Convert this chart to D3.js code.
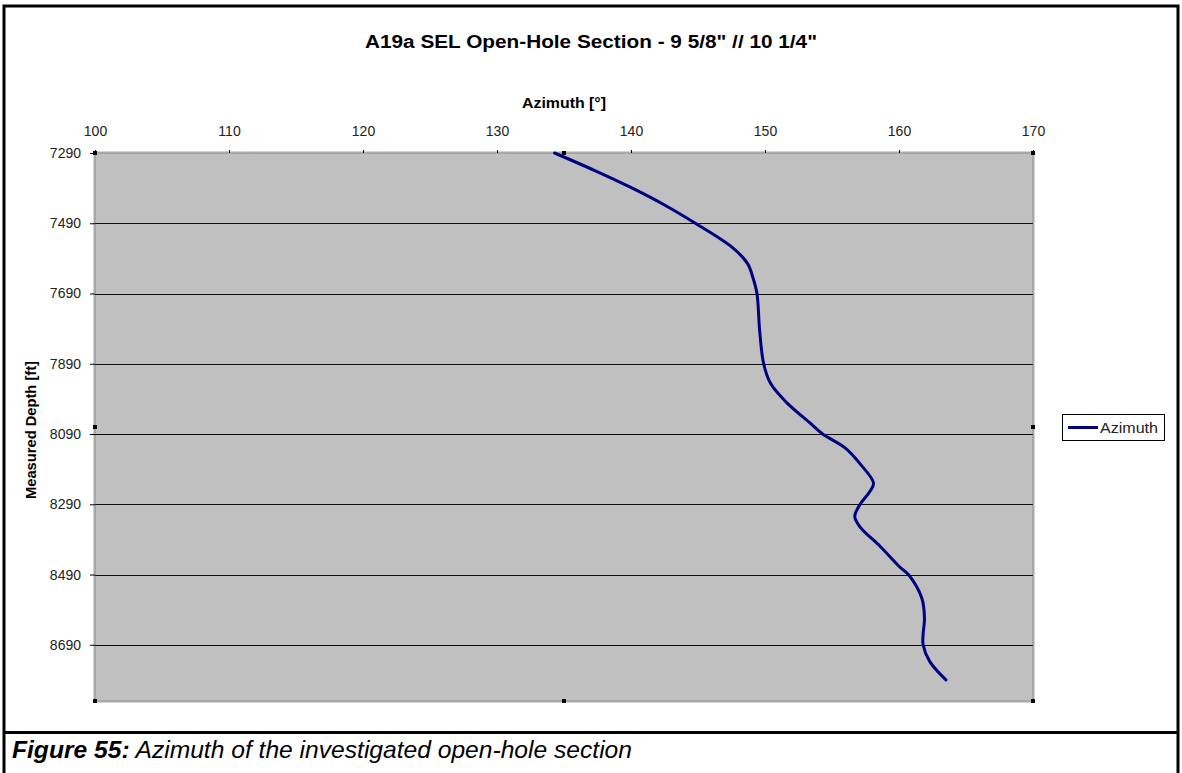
<!DOCTYPE html>
<html>
<head>
<meta charset="utf-8">
<script src="https://cdn.jsdelivr.net/npm/d3@7"></script>
<style>
  html, body { margin: 0; padding: 0; background: #fff; }
  svg { display: block; font-family: "Liberation Sans", Arial, sans-serif; }
</style>
</head>
<body>
<svg id="chart" width="1182" height="773"></svg>
<script>
// Measured depth [ft] along the open-hole section
const depths = [7290, 7340, 7390, 7440, 7490, 7560, 7605, 7645, 7690, 7795, 7890, 7945,
                8000, 8060, 8090, 8130, 8175, 8230, 8255, 8290, 8325, 8355, 8410, 8470,
                8490, 8557, 8615, 8660, 8690, 8738, 8790];
// Azimuth [°] at each depth
const azimuths = [134.3, 137.3, 140.1, 142.6, 144.8, 147.6, 148.7, 149.1, 149.4, 149.6, 149.9, 150.4,
                  151.6, 153.4, 154.3, 156.0, 157.1, 158.1, 157.8, 157.1, 156.7, 157.1, 158.6, 160.1,
                  160.7, 161.7, 161.9, 161.8, 161.8, 162.3, 163.5];
const xTicks = [100, 110, 120, 130, 140, 150, 160, 170];
const yTicks = [7290, 7490, 7690, 7890, 8090, 8290, 8490, 8690];
const depthMax = 8850;

const titleText = "A19a SEL Open-Hole Section - 9 5/8\" // 10 1/4\"";
const xTitle = "Azimuth [°]";
const yTitle = "Measured Depth [ft]";
const seriesName = "Azimuth";
const captionBold = "Figure 55:";
const captionRest = " Azimuth of the investigated open-hole section";

const svg = d3.select("#chart");
const plot = { left: 95, right: 1033, top: 153, bottom: 701 };

const x = d3.scaleLinear().domain([100, 170]).range([plot.left, plot.right]);
const y = d3.scaleLinear().domain([7290, depthMax]).range([plot.top, plot.bottom]);

// Page frame and caption divider
svg.append("rect").attr("x", 4).attr("y", 6).attr("width", 1174).attr("height", 800)
  .attr("fill", "none").attr("stroke", "#000").attr("stroke-width", 3);
svg.append("line").attr("x1", 4).attr("x2", 1178).attr("y1", 732.5).attr("y2", 732.5)
  .attr("stroke", "#000").attr("stroke-width", 3);

// Plot area
svg.append("rect").attr("x", plot.left).attr("y", plot.top)
  .attr("width", plot.right - plot.left).attr("height", plot.bottom - plot.top)
  .attr("fill", "#c0c0c0");

// Horizontal gridlines
svg.append("g").selectAll("line").data(yTicks.slice(1)).join("line")
  .attr("x1", plot.left).attr("x2", plot.right)
  .attr("y1", d => Math.round(y(d)) + 0.5).attr("y2", d => Math.round(y(d)) + 0.5)
  .attr("stroke", "#101010").attr("stroke-width", 1);

// Plot border (dotted)
svg.append("rect").attr("x", plot.left - 0.5).attr("y", plot.top - 0.5)
  .attr("width", plot.right - plot.left + 1).attr("height", plot.bottom - plot.top + 1)
  .attr("fill", "none").attr("stroke", "#555").attr("stroke-width", 2)
  .attr("stroke-dasharray", "1,1");

// Axes
const xAxis = d3.axisTop(x).tickValues(xTicks).tickSize(3).tickPadding(14).tickFormat(d3.format("d"));
const gx = svg.append("g").attr("transform", `translate(0,${plot.top})`).call(xAxis);
gx.select(".domain").remove();
gx.selectAll(".tick line").attr("stroke", "#000");
gx.selectAll(".tick text").attr("font-size", 14).attr("fill", "#222")
  .attr("font-family", "Liberation Sans, Arial, sans-serif");

const yAxis = d3.axisLeft(y).tickValues(yTicks).tickSize(5).tickPadding(9).tickFormat(d3.format("d"));
const gy = svg.append("g").attr("transform", `translate(${plot.left},0)`).call(yAxis);
gy.select(".domain").remove();
gy.selectAll(".tick line").attr("stroke", "#000");
gy.selectAll(".tick text").attr("font-size", 14).attr("fill", "#222")
  .attr("font-family", "Liberation Sans, Arial, sans-serif");

// Azimuth curve
const data = depths.map((d, i) => ({ depth: d, az: azimuths[i] }));
const line = d3.line().x(d => x(d.az)).y(d => y(d.depth)).curve(d3.curveCatmullRom.alpha(0.5));
svg.append("path").datum(data).attr("d", line)
  .attr("fill", "none").attr("stroke", "#000080").attr("stroke-width", 3)
  .attr("stroke-linejoin", "round").attr("stroke-linecap", "round");

// Selection handles on the plot area
const handles = [
  [plot.left, plot.top], [(plot.left + plot.right) / 2, plot.top], [plot.right, plot.top],
  [plot.left, (plot.top + plot.bottom) / 2], [plot.right, (plot.top + plot.bottom) / 2],
  [plot.left, plot.bottom], [(plot.left + plot.right) / 2, plot.bottom], [plot.right, plot.bottom]
];
svg.append("g").selectAll("rect").data(handles).join("rect")
  .attr("x", d => d[0] - 2).attr("y", d => d[1] - 2).attr("width", 4).attr("height", 4)
  .attr("fill", "#000");

// Titles
svg.append("text").attr("x", 591).attr("y", 48).attr("text-anchor", "middle")
  .attr("font-size", 18).attr("font-weight", "bold")
  .attr("textLength", 452).attr("lengthAdjust", "spacingAndGlyphs").text(titleText);
svg.append("text").attr("x", (plot.left + plot.right) / 2).attr("y", 108).attr("text-anchor", "middle")
  .attr("font-size", 14).attr("font-weight", "bold")
  .attr("textLength", 84).attr("lengthAdjust", "spacingAndGlyphs").text(xTitle);
svg.append("text").attr("transform", `translate(36,430) rotate(-90)`)
  .attr("text-anchor", "middle").attr("font-size", 14).attr("font-weight", "bold")
  .attr("textLength", 138).attr("lengthAdjust", "spacingAndGlyphs").text(yTitle);

// Legend
const lg = svg.append("g").attr("transform", "translate(1062,414)");
lg.append("rect").attr("x", 0.5).attr("y", 0.5).attr("width", 102).attr("height", 26)
  .attr("fill", "#fff").attr("stroke", "#000").attr("stroke-width", 1);
lg.append("line").attr("x1", 6).attr("x2", 36).attr("y1", 13.5).attr("y2", 13.5)
  .attr("stroke", "#000080").attr("stroke-width", 3);
lg.append("text").attr("x", 38).attr("y", 19).attr("font-size", 15).attr("fill", "#222")
  .attr("textLength", 58).attr("lengthAdjust", "spacingAndGlyphs").text(seriesName);

// Caption
const cap = svg.append("text").attr("x", 12).attr("y", 758).attr("font-size", 24)
  .attr("font-style", "italic").attr("textLength", 620).attr("lengthAdjust", "spacingAndGlyphs");
cap.append("tspan").attr("font-weight", "bold").text(captionBold);
cap.append("tspan").text(captionRest);
</script>
</body>
</html>
